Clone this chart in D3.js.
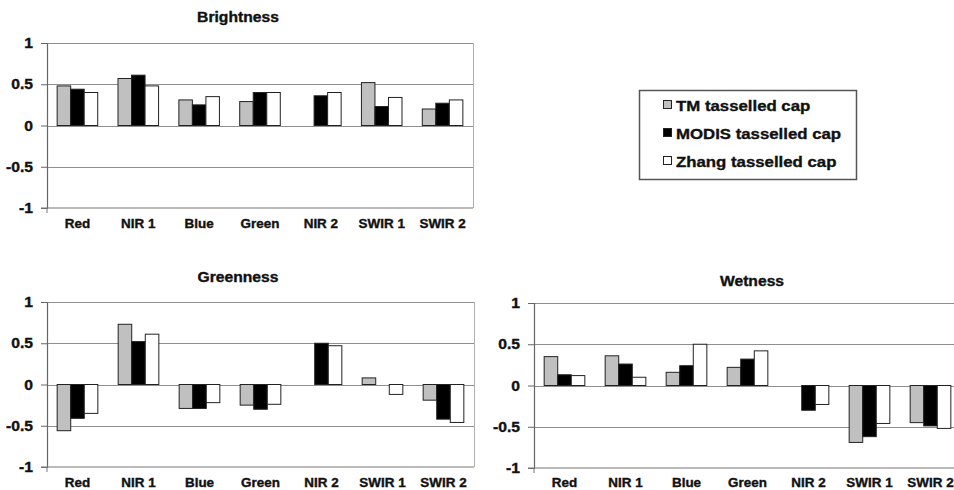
<!DOCTYPE html>
<html>
<head>
<meta charset="utf-8">
<script src="https://cdn.jsdelivr.net/npm/d3@7"></script>
<style>
  html, body { margin: 0; padding: 0; background: #fff; }
  svg { display: block; }
  text { font-family: "Liberation Sans", Arial, sans-serif; font-weight: bold; fill: #111; stroke: #111; stroke-width: 0.35px; }
</style>
</head>
<body>
<svg id="chart" width="954" height="490"></svg>
<script>
// Band categories shared by all three components
const categories = ["Red", "NIR 1", "Blue", "Green", "NIR 2", "SWIR 1", "SWIR 2"];
const seriesNames = ["TM tasselled cap", "MODIS tasselled cap", "Zhang tasselled cap"];
const seriesColors = ["#c0c0c0", "#000000", "#ffffff"];
const yTicks = [-1, -0.5, 0, 0.5, 1];
const yTickLabels = ["-1", "-0.5", "0", "0.5", "1"];

// Brightness loadings
const brightnessTM    = [0.48, 0.57, 0.31, 0.29, 0.00, 0.52, 0.20];
const brightnessMODIS = [0.44, 0.61, 0.25, 0.40, 0.36, 0.23, 0.27];
const brightnessZhang = [0.40, 0.48, 0.35, 0.40, 0.40, 0.34, 0.31];

// Greenness loadings
const greennessTM    = [-0.56, 0.73, -0.29, -0.25, 0.00, 0.08, -0.19];
const greennessMODIS = [-0.41, 0.52, -0.29, -0.30, 0.50, 0.00, -0.42];
const greennessZhang = [-0.35, 0.61, -0.22, -0.24, 0.47, -0.12, -0.46];

// Wetness loadings
const wetnessTM    = [0.35, 0.36, 0.16, 0.22, 0.00, -0.69, -0.45];
const wetnessMODIS = [0.13, 0.26, 0.24, 0.32, -0.30, -0.62, -0.49];
const wetnessZhang = [0.12, 0.10, 0.50, 0.42, -0.23, -0.46, -0.52];

const SX = 1.12; // horizontal stretch of the lettering

const svg = d3.select("#chart");

function label(g, x, y, str, size, anchor) {
  return g.append("text")
    .attr("transform", `translate(${x},${y}) scale(${SX},1)`)
    .attr("text-anchor", anchor || "middle")
    .style("font-size", size + "px")
    .text(str);
}

function panel(opts) {
  const { title, values, left, right, top, bottom, titleX, titleY, catY } = opts;
  const g = svg.append("g");

  const x0 = d3.scaleBand().domain(categories).range([left, right])
    .paddingInner(1 / 3).paddingOuter(1 / 6);
  const x1 = d3.scaleBand().domain(d3.range(seriesNames.length))
    .range([0, x0.bandwidth()]).padding(0);
  const y = d3.scaleLinear().domain([-1, 1]).range([bottom, top]);

  // horizontal gridlines
  g.selectAll("line.grid").data(yTicks.filter(v => v > -1)).join("line")
    .attr("x1", left).attr("x2", right)
    .attr("y1", d => Math.round(y(d)) + 0.5).attr("y2", d => Math.round(y(d)) + 0.5)
    .attr("stroke", "#8f8f8f").attr("stroke-width", 1.2);

  // right border of the plot area
  g.append("line")
    .attr("x1", right + 0.5).attr("x2", right + 0.5)
    .attr("y1", y(1)).attr("y2", y(-1))
    .attr("stroke", "#b0b0b0").attr("stroke-width", 1);

  // bars
  const rows = categories.map((c, i) => ({ c, v: values.map(s => s[i]) }));
  const groups = g.selectAll("g.cat").data(rows).join("g")
    .attr("transform", d => `translate(${x0(d.c)},0)`);
  groups.selectAll("rect")
    .data(d => d.v.map((v, k) => ({ v, k })).filter(e => e.v !== 0))
    .join("rect")
    .attr("x", d => x1(d.k))
    .attr("width", x1.bandwidth())
    .attr("y", d => y(Math.max(0, d.v)))
    .attr("height", d => Math.abs(y(d.v) - y(0)))
    .attr("fill", d => seriesColors[d.k])
    .attr("stroke", "#222").attr("stroke-width", 1);

  // y axis
  const yAxis = d3.axisLeft(y).tickValues(yTicks).tickSize(6).tickPadding(8)
    .tickFormat((d, i) => yTickLabels[i]);
  const ya = g.append("g").attr("transform", `translate(${left},0)`).call(yAxis);
  ya.select(".domain").attr("stroke", "#666").attr("stroke-width", 1.2);
  ya.selectAll(".tick line").attr("stroke", "#666");
  ya.selectAll(".tick text").remove();
  yTicks.forEach((v, i) => {
    label(g, left - 14, y(v) + 5, yTickLabels[i], 14, "end");
  });

  // x axis along the bottom
  g.append("line")
    .attr("x1", left - 6).attr("x2", right)
    .attr("y1", y(-1)).attr("y2", y(-1))
    .attr("stroke", "#777").attr("stroke-width", 1.2);
  g.append("line")
    .attr("x1", left).attr("x2", left)
    .attr("y1", y(-1)).attr("y2", y(-1) + 5)
    .attr("stroke", "#777");

  categories.forEach(c => {
    label(g, x0(c) + x0.bandwidth() / 2, catY, c, 12, "middle");
  });

  label(g, titleX, titleY, title, 14, "middle");
}

panel({
  title: "Brightness",
  values: [brightnessTM, brightnessMODIS, brightnessZhang],
  left: 47, right: 473, top: 43, bottom: 208,
  titleX: 238, titleY: 22, catY: 228
});

panel({
  title: "Greenness",
  values: [greennessTM, greennessMODIS, greennessZhang],
  left: 47, right: 474, top: 302, bottom: 467,
  titleX: 238, titleY: 282, catY: 487
});

panel({
  title: "Wetness",
  values: [wetnessTM, wetnessMODIS, wetnessZhang],
  left: 534, right: 961, top: 303, bottom: 468,
  titleX: 752, titleY: 286, catY: 487
});

// legend
const lg = svg.append("g");
lg.append("rect")
  .attr("x", 639.5).attr("y", 90.5).attr("width", 217).attr("height", 89)
  .attr("fill", "#fff").attr("stroke", "#555").attr("stroke-width", 1.5);
seriesNames.forEach((name, i) => {
  const cy = 105 + i * 28;
  lg.append("rect")
    .attr("x", 663.5).attr("y", cy - 4.5).attr("width", 8).attr("height", 8)
    .attr("fill", seriesColors[i]).attr("stroke", "#222").attr("stroke-width", 1);
  label(lg, 676, cy + 6, name, 15, "start");
});
</script>
</body>
</html>
